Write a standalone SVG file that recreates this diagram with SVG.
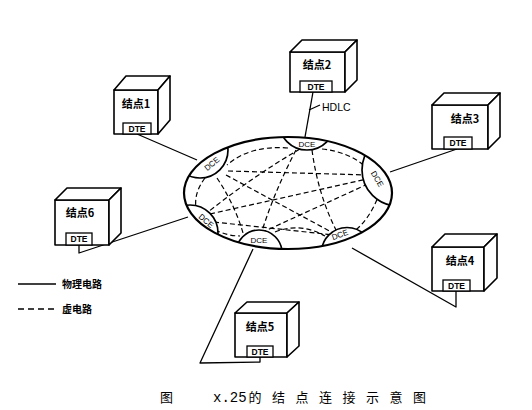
<svg xmlns="http://www.w3.org/2000/svg" width="532" height="410" viewBox="0 0 532 410">
<style>
.box{fill:#fff;stroke:#000;stroke-width:1.6;stroke-linejoin:round}
.dte{fill:#fff;stroke:#000;stroke-width:1.3}
.lbl{font-family:"Noto Sans CJK SC",sans-serif;font-weight:bold;font-size:11px;text-anchor:middle}
.dtet{font-family:"Liberation Sans",sans-serif;font-weight:bold;font-size:8.5px;text-anchor:middle}
.conn{fill:none;stroke:#000;stroke-width:1.3;stroke-linejoin:round}
.vc{fill:none;stroke:#000;stroke-width:1.2;stroke-dasharray:5 3}
.cap{fill:#fff;stroke:#000;stroke-width:1.7}
.dce{font-family:"Liberation Sans",sans-serif;font-size:8px;text-anchor:middle;dominant-baseline:central}
.leg{font-family:"Noto Sans CJK SC",sans-serif;font-weight:bold;font-size:10px}
</style>
<defs>
<clipPath id="ec"><ellipse cx="288" cy="193" rx="104" ry="56"/></clipPath>
</defs>
<rect width="532" height="410" fill="#fff"/>

<g id="connectors">
<path class="conn" d="M137,134 L197,160"/>
<path class="conn" d="M313,92 L305,137"/>
<path class="conn" d="M309,110 L320,105"/>
<path class="conn" d="M457,149 L390,172"/>
<path class="conn" d="M79,245 L79,253 L188,217"/>
<path class="conn" d="M456,291 L456,307 L352,248"/>
<path class="conn" d="M260,357 L260,362 L200,363 L253,249"/>
</g>

<g id="network">
<ellipse cx="288" cy="193" rx="104" ry="56" fill="#fff"/>
<g id="virtual-circuits">
<path class="vc" d="M288,148 Q250,145 227,165"/>
<path class="vc" d="M322,149 Q350,152 367,168"/>
<path class="vc" d="M296,150 Q275,190 262,231"/>
<path class="vc" d="M312,150 Q318,195 337,232"/>
<path class="vc" d="M300,149 Q255,175 208,212"/>
<path class="vc" d="M228,171 L367,175"/>
<path class="vc" d="M226,175 L335,234"/>
<path class="vc" d="M217,178 Q235,205 243,233"/>
<path class="vc" d="M205,178 Q192,195 197,213"/>
<path class="vc" d="M210,214 L367,179"/>
<path class="vc" d="M214,222 L334,235"/>
<path class="vc" d="M215,230 Q228,236 240,236"/>
<path class="vc" d="M368,184 L265,231"/>
<path class="vc" d="M380,192 Q370,220 352,233"/>
<path class="vc" d="M275,232 Q300,222 325,236"/>
</g>
<g clip-path="url(#ec)">
<circle class="cap" cx="307" cy="122" r="28"/>
<circle class="cap" cx="200" cy="150" r="28"/>
<circle class="cap" cx="398" cy="170" r="36"/>
<circle class="cap" cx="190" cy="233" r="28"/>
<circle class="cap" cx="259" cy="253" r="23"/>
<circle class="cap" cx="347" cy="253" r="25.5"/>
</g>
<ellipse cx="288" cy="193" rx="104" ry="56" fill="none" stroke="#000" stroke-width="2.2"/>
<g id="dce-labels">
<text class="dce" x="307" y="144">DCE</text>
<text class="dce" transform="translate(212,164) rotate(-40)">DCE</text>
<text class="dce" transform="translate(377,179) rotate(60)">DCE</text>
<text class="dce" transform="translate(206,221) rotate(40)">DCE</text>
<text class="dce" x="259" y="240">DCE</text>
<text class="dce" transform="translate(340,235) rotate(-20)">DCE</text>
</g>
</g>

<g id="node1">
<rect class="box" x="114" y="90" width="44" height="44"/>
<polygon class="box" points="114,90 126,76 170,76 158,90"/>
<polygon class="box" points="158,90 170,76 170,120 158,134"/>
<text class="lbl" x="136" y="108">结点1</text>
<rect class="dte" x="123" y="123" width="28" height="11"/>
<text class="dtet" x="137" y="131.5">DTE</text>
</g>

<g id="node2">
<rect class="box" x="290" y="52" width="55" height="40"/>
<polygon class="box" points="290,52 302,40 357,40 345,52"/>
<polygon class="box" points="345,52 357,40 357,80 345,92"/>
<text class="lbl" x="317" y="69">结点2</text>
<rect class="dte" x="300" y="81" width="32" height="11"/>
<text class="dtet" x="316" y="89.5">DTE</text>
<text x="322" y="111" font-family="Liberation Sans,sans-serif" font-size="10.5">HDLC</text>
</g>

<g id="node3">
<rect class="box" x="432" y="105" width="56" height="44"/>
<polygon class="box" points="432,105 444,93 500,93 488,105"/>
<polygon class="box" points="488,105 500,93 500,137 488,149"/>
<text class="lbl" x="465" y="123">结点3</text>
<rect class="dte" x="444" y="137" width="28" height="12"/>
<text class="dtet" x="458" y="146">DTE</text>
</g>

<g id="node6">
<rect class="box" x="55" y="200" width="54" height="45"/>
<polygon class="box" points="55,200 67,188 121,188 109,200"/>
<polygon class="box" points="109,200 121,188 121,233 109,245"/>
<text class="lbl" x="80" y="217">结点6</text>
<rect class="dte" x="66" y="233" width="26" height="12"/>
<text class="dtet" x="79" y="242">DTE</text>
</g>

<g id="node4">
<rect class="box" x="432" y="247" width="52" height="44"/>
<polygon class="box" points="432,247 445,234 497,234 484,247"/>
<polygon class="box" points="484,247 497,234 497,278 484,291"/>
<text class="lbl" x="460" y="265">结点4</text>
<rect class="dte" x="443" y="280" width="27" height="11"/>
<text class="dtet" x="456.5" y="288.5">DTE</text>
</g>

<g id="node5">
<rect class="box" x="235" y="313" width="52" height="44"/>
<polygon class="box" points="235,313 247,302 299,302 287,313"/>
<polygon class="box" points="287,313 299,302 299,346 287,357"/>
<text class="lbl" x="260" y="331">结点5</text>
<rect class="dte" x="247" y="346" width="26" height="11"/>
<text class="dtet" x="260" y="354.5">DTE</text>
</g>

<g id="legend">
<line x1="18" y1="284" x2="56" y2="284" stroke="#000" stroke-width="1.3"/>
<text class="leg" x="62" y="288">物理电路</text>
<line x1="18" y1="309" x2="56" y2="309" stroke="#000" stroke-width="1.5" stroke-dasharray="6 4"/>
<text class="leg" x="62" y="313">虚电路</text>
</g>

<g id="caption">
<text x="160" y="402" font-family="Noto Sans CJK SC,sans-serif" font-size="13">图</text>
<text x="213" y="402" font-size="13" font-family="Noto Sans CJK SC,sans-serif"><tspan font-family="Liberation Mono,monospace" font-size="14">x.25</tspan><tspan dx="2" letter-spacing="10.5">的结点连接示意图</tspan></text>
</g>
</svg>
